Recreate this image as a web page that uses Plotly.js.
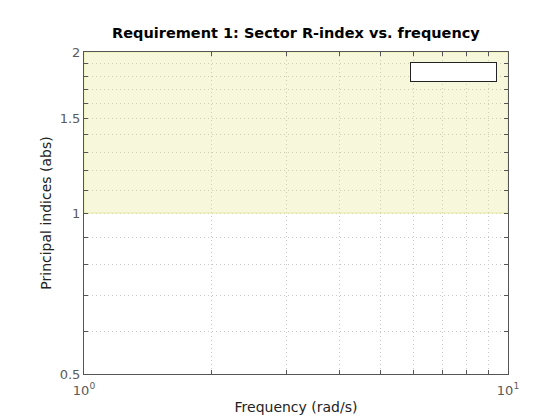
<!DOCTYPE html>
<html>
<head>
<meta charset="utf-8">
<script src="https://cdn.plot.ly/plotly-3.0.1.min.js"></script>
<style>html,body{margin:0;padding:0;background:#fff;}#chart{width:560px;height:420px;}</style>
</head>
<body>
<div id="chart"></div>
<script>
// Requirement region (Sector R-index bound): frequency range and index bounds
const regionFreq = [1, 10, 10, 1, 1];
const regionIndex = [1, 1, 2, 2, 1];

// Axis ticks
const xTickVals = [1, 2, 3, 4, 5, 6, 7, 8, 9, 10];
const xTickText = ['10<sup>0</sup>', '', '', '', '', '', '', '', '', '10<sup>1</sup>'];
const yTickVals = [0.5, 0.6, 0.7, 0.8, 0.9, 1, 1.1, 1.2, 1.3, 1.4, 1.5, 1.6, 1.7, 1.8, 1.9, 2];
const yTickText = ['0.5', '', '', '', '', '1', '', '', '', '', '1.5', '', '', '', '', '2'];

const font = 'DejaVu Sans, Liberation Sans, sans-serif';

const traces = [{
  type: 'scatter',
  mode: 'lines',
  x: regionFreq,
  y: regionIndex,
  fill: 'toself',
  fillcolor: 'rgba(223,223,115,0.25)',
  line: {color: 'rgba(228,234,150,0.9)', width: 1},
  hoverinfo: 'skip',
  showlegend: false
}];

const axisCommon = {
  type: 'log',
  showgrid: true,
  gridcolor: '#c8c8c8',
  griddash: '1px,3px',
  gridwidth: 1,
  zeroline: false,
  showline: true,
  linecolor: '#555555',
  linewidth: 1,
  mirror: 'ticks',
  ticks: 'inside',
  ticklen: 4,
  tickcolor: '#555555',
  tickfont: {family: font, size: 13, color: '#5a5a5a'},
  tickmode: 'array'
};

const layout = {
  width: 560,
  height: 420,
  margin: {l: 84, r: 52, t: 52, b: 46},
  paper_bgcolor: '#ffffff',
  plot_bgcolor: '#ffffff',
  showlegend: false,
  title: {
    text: '<b>Requirement 1: Sector R-index vs. frequency</b>',
    font: {family: font, size: 14.5, color: '#000000'},
    x: 0.5285, xanchor: 'center',
    y: 0.921, yanchor: 'middle'
  },
  xaxis: Object.assign({}, axisCommon, {
    range: [0, 1],
    tickvals: xTickVals,
    ticktext: xTickText,
    ticklabelstandoff: 4,
    title: {text: 'Frequency (rad/s)', font: {family: font, size: 14, color: '#222222'}, standoff: 5}
  }),
  yaxis: Object.assign({}, axisCommon, {
    range: [Math.log10(0.5), Math.log10(2)],
    tickvals: yTickVals,
    ticktext: yTickText,
    title: {text: 'Principal indices (abs)', font: {family: font, size: 14, color: '#222222'}, standoff: 4}
  }),
  annotations: [{
    xref: 'paper', yref: 'paper',
    x: 0.974, y: 0.969, xanchor: 'right', yanchor: 'top',
    text: ' ', showarrow: false,
    width: 85, height: 18,
    bgcolor: '#ffffff', bordercolor: '#222222', borderwidth: 1, borderpad: 0
  }]
};

Plotly.newPlot('chart', traces, layout, {displayModeBar: false, staticPlot: true});
</script>
</body>
</html>
